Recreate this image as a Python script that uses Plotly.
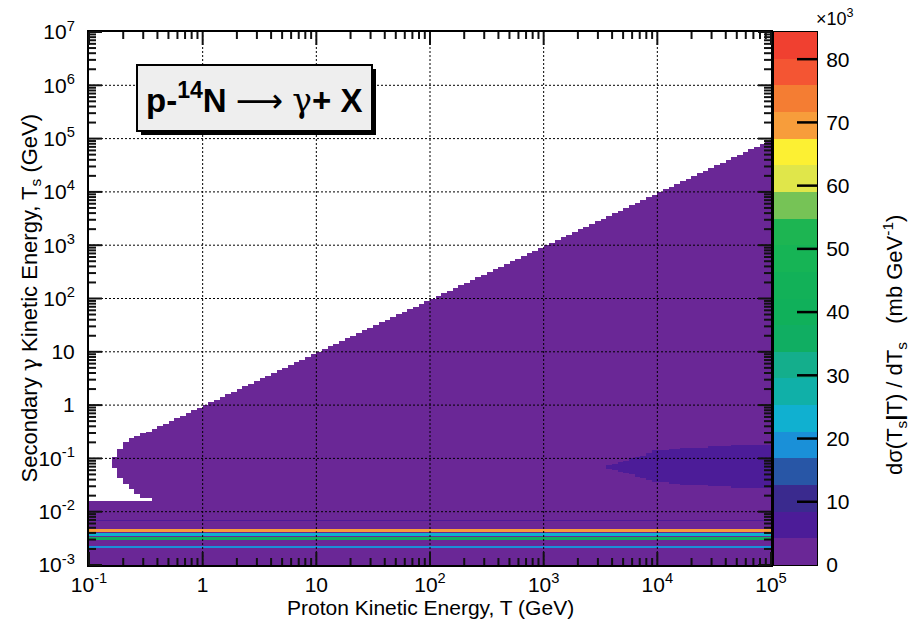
import numpy as np
import plotly.graph_objects as go

# ---------------- data ----------------
# grid of the 2D histogram (log10 of energies in GeV)
LOGT_MIN, LOGT_MAX, LOGT_STEP = -1.0, 5.0, 0.05
LOGTS_MIN, LOGTS_MAX, LOGTS_STEP = -3.0, 7.0, 0.025

# upper kinematic edge of the continuum (log10 Ts) for each T column (120 columns, -1..5)
upper_edge = [None, None, None, None, -0.97, -0.82, -0.69, -0.62, -0.57, -0.53, -0.49, -0.45,
              -0.40, -0.36, -0.30, -0.26, -0.20, -0.16, -0.10, -0.06,
              -0.01, 0.05, 0.09, 0.15, 0.19, 0.25, 0.29, 0.35, 0.40, 0.44,
              0.50, 0.54, 0.60, 0.64, 0.70, 0.74, 0.80, 0.85, 0.89, 0.95,
              0.99, 1.05, 1.10, 1.14, 1.20, 1.24, 1.30, 1.35, 1.39, 1.45,
              1.50, 1.54, 1.60, 1.64, 1.70, 1.75, 1.79, 1.85, 1.90, 1.94,
              2.00, 2.04, 2.10, 2.15, 2.19, 2.25, 2.30, 2.34, 2.40, 2.45,
              2.49, 2.55, 2.60, 2.64, 2.70, 2.75, 2.79, 2.85, 2.90, 2.94,
              3.00, 3.05, 3.09, 3.15, 3.20, 3.24, 3.30, 3.35, 3.39, 3.45,
              3.50, 3.54, 3.60, 3.65, 3.69, 3.75, 3.80, 3.84, 3.90, 3.95,
              3.99, 4.05, 4.10, 4.14, 4.20, 4.25, 4.29, 4.35, 4.40, 4.44,
              4.50, 4.55, 4.59, 4.65, 4.70, 4.74, 4.80, 4.85, 4.89, 4.94]
# lower edge of the continuum near threshold (first columns); elsewhere it joins the low-energy band
nose_lower_edge = [None, None, None, None, -1.18, -1.38, -1.47, -1.57, -1.68, -1.74, -1.76]

continuum_level = 1.6          # x10^3 mb/GeV
band_top = -1.80               # log10 Ts of the top of the low-energy band
band_level = 1.6

# nuclear de-excitation gamma lines inside the low-energy band
line_lo = [-2.38, -2.455, -2.53, -2.68, -2.17]
line_hi = [-2.33, -2.400, -2.475, -2.64, -2.14]
line_level = [70.0, 23.0, 36.0, 18.0, 6.0]

# pi0-decay bump at high T (per column from log10 T = 3.575 to 4.975)
bump_first_logT = 3.575
bump_lo = [-1.19, -1.22, -1.25, -1.28, -1.31, -1.34, -1.37, -1.41, -1.44, -1.45,
           -1.46, -1.47, -1.48, -1.49, -1.50, -1.50, -1.51, -1.51, -1.52, -1.52,
           -1.53, -1.53, -1.54, -1.54, -1.55, -1.55, -1.56, -1.56, -1.56]
bump_hi = [-1.13, -1.10, -1.07, -1.04, -1.01, -0.98, -0.95, -0.90, -0.86, -0.85,
           -0.84, -0.83, -0.82, -0.81, -0.80, -0.80, -0.79, -0.79, -0.78, -0.78,
           -0.77, -0.77, -0.76, -0.76, -0.76, -0.75, -0.75, -0.75, -0.75]
bump_level = 6.0

# colour palette of the 20 contour bands (bottom -> top)
band_colors = ["#6a2796", "#4c1c98", "#3a2a8e", "#2856a6", "#1a90d8",
               "#10b0d0", "#10b0a8", "#14ae8c", "#10ae62", "#10b05a",
               "#12b158", "#16b455", "#1db552", "#76c356", "#e0e64a",
               "#fcf033", "#f79d3b", "#f47d33", "#f45533", "#f04030"]
z_max = 84.3
cbar_ticks = [0, 10, 20, 30, 40, 50, 60, 70, 80]

x_tickvals = [0.1, 1, 10, 100, 1e3, 1e4, 1e5]
x_ticktext = ["10<sup>-1</sup>", "1", "10", "10<sup>2</sup>", "10<sup>3</sup>", "10<sup>4</sup>", "10<sup>5</sup>"]
y_tickvals = [1e-3, 1e-2, 0.1, 1, 10, 100, 1e3, 1e4, 1e5, 1e6, 1e7]
y_ticktext = ["10<sup>-3</sup>", "10<sup>-2</sup>", "10<sup>-1</sup>", "1", "10", "10<sup>2</sup>",
              "10<sup>3</sup>", "10<sup>4</sup>", "10<sup>5</sup>", "10<sup>6</sup>", "10<sup>7</sup>"]

# ---------------- build the histogram ----------------
logT_edges = np.round(np.arange(LOGT_MIN, LOGT_MAX + 1e-9, LOGT_STEP), 4)
logTs_edges = np.round(np.arange(LOGTS_MIN, LOGTS_MAX + 1e-9, LOGTS_STEP), 4)
col_c = 0.5 * (logT_edges[:-1] + logT_edges[1:])
row_c = 0.5 * (logTs_edges[:-1] + logTs_edges[1:])
ncol, nrow = len(col_c), len(row_c)
bump_first_col = int(np.argmin(np.abs(col_c - bump_first_logT)))

z = np.full((nrow, ncol), np.nan)
for c in range(ncol):
    zc = np.full(nrow, np.nan)
    zc[row_c < band_top] = band_level
    for lo, hi, v in zip(line_lo, line_hi, line_level):
        zc[(row_c >= lo) & (row_c < hi)] = v
    up = upper_edge[c]
    if up is not None:
        lo_c = band_top
        if c < len(nose_lower_edge) and nose_lower_edge[c] is not None:
            lo_c = nose_lower_edge[c]
        zc[(row_c >= lo_c) & (row_c < up)] = continuum_level
    k = c - bump_first_col
    if 0 <= k < len(bump_lo):
        zc[(row_c >= bump_lo[k]) & (row_c < bump_hi[k])] = bump_level
    z[:, c] = zc

colorscale = []
n_b = len(band_colors)
for i, col in enumerate(band_colors):
    colorscale.append([i / n_b, col])
    colorscale.append([(i + 1) / n_b, col])
band_edges = np.linspace(0, z_max, n_b + 1)
band_mid = 0.5 * (band_edges[:-1] + band_edges[1:])

minor_x = [m * 10.0 ** e for e in range(-1, 5) for m in range(2, 10)]
minor_y = [m * 10.0 ** e for e in range(-3, 7) for m in range(2, 10)]

# ---------------- figure ----------------
W, H = 910, 619
L, R, T, B = 89, 771, 32, 565     # main plot frame (pixels)
CB0, CB1 = 774, 817               # colour bar (pixels)
pw, ph = CB1 - L, B - T
fw, fh = R - L, B - T             # frame size
cbw = CB1 - CB0

def px2x(px):
    return (px - L) / pw

def px2y(py):
    return (B - py) / ph

FONT = "Liberation Sans, Arial, Helvetica, sans-serif"
TICKFONT = dict(size=21, family=FONT, color="black")

fig = go.Figure()
fig.add_trace(go.Heatmap(
    x=10 ** logT_edges, y=10 ** logTs_edges, z=z,
    zmin=0, zmax=z_max, colorscale=colorscale, zsmooth=False,
    hoverongaps=False, showscale=False, xaxis="x", yaxis="y",
))
# colour bar drawn as its own heatmap
fig.add_trace(go.Heatmap(
    x=[0, 1], y=band_edges, z=[[v] for v in band_mid],
    zmin=0, zmax=z_max, colorscale=colorscale, zsmooth=False,
    showscale=False, hoverinfo="skip", xaxis="x2", yaxis="y2",
))

frame = dict(showline=True, linecolor="black", mirror=True, showgrid=False, zeroline=False, ticks="")
fig.update_layout(
    xaxis=dict(domain=[0, px2x(R)], type="log", range=[-1, 5], tickmode="array",
               tickvals=x_tickvals, ticktext=x_ticktext, tickfont=TICKFONT, anchor="y",
               linewidth=2, ticklabelstandoff=0, **frame),
    yaxis=dict(domain=[0, 1], type="log", range=[-3, 7], tickmode="array",
               tickvals=y_tickvals, ticktext=y_ticktext, tickfont=TICKFONT, anchor="x",
               linewidth=2, ticklabelstandoff=8, **frame),
    xaxis2=dict(domain=[px2x(CB0), 1], range=[0, 1], anchor="y2", showticklabels=False,
                linewidth=1, fixedrange=True, **frame),
    yaxis2=dict(domain=[0, 1], range=[0, z_max], anchor="x2", side="right",
                tickmode="array", tickvals=cbar_ticks, tickfont=TICKFONT, ticklabelstandoff=4,
                linewidth=1, fixedrange=True, **frame),
)

shapes = []
DOT = dict(color="black", width=1, dash="2px,2px")
TICK = dict(color="#111111", width=2)

def fx(v):
    return float((np.log10(v) + 1) / 6)

def fy(v):
    return float((np.log10(v) + 3) / 10)

# grid
for v in x_tickvals[1:-1]:
    shapes.append(dict(type="line", xref="x domain", yref="y domain", x0=fx(v), x1=fx(v),
                       y0=0, y1=1, line=DOT, layer="above"))
for v in y_tickvals[1:-1]:
    shapes.append(dict(type="line", xref="x domain", yref="y domain", x0=0, x1=1,
                       y0=fy(v), y1=fy(v), line=DOT, layer="above"))
# ticks on all four sides (major 13 px, minor 7 px)
for vals, ln in ((x_tickvals, 13), (minor_x, 7)):
    for v in vals:
        f = fx(v)
        shapes.append(dict(type="line", xref="x domain", yref="y domain", x0=f, x1=f,
                           y0=0, y1=ln / fh, line=TICK, layer="above"))
        shapes.append(dict(type="line", xref="x domain", yref="y domain", x0=f, x1=f,
                           y0=1, y1=1 - ln / fh, line=TICK, layer="above"))
for vals, ln in ((y_tickvals, 13), (minor_y, 7)):
    for v in vals:
        f = fy(v)
        shapes.append(dict(type="line", xref="x domain", yref="y domain", x0=0, x1=ln / fw,
                           y0=f, y1=f, line=TICK, layer="above"))
        shapes.append(dict(type="line", xref="x domain", yref="y domain", x0=1, x1=1 - ln / fw,
                           y0=f, y1=f, line=TICK, layer="above"))
# colour-bar ticks
for v in cbar_ticks[1:]:
    shapes.append(dict(type="line", xref="x2 domain", yref="y2", x0=1, x1=1 - 20 / cbw,
                       y0=v, y1=v, line=dict(color="black", width=2.5), layer="above"))

# label box with shadow
bx0, bx1, by0, by1 = 137, 372, 65, 131
shapes.append(dict(type="rect", xref="paper", yref="paper",
                   x0=px2x(bx0 + 4), x1=px2x(bx1 + 4), y0=px2y(by1 + 4), y1=px2y(by0 + 4),
                   fillcolor="black", line=dict(width=0), layer="above"))
shapes.append(dict(type="rect", xref="paper", yref="paper",
                   x0=px2x(bx0), x1=px2x(bx1), y0=px2y(by1), y1=px2y(by0),
                   fillcolor="#eeeeee", line=dict(color="black", width=2), layer="above"))

annotations = [
    dict(text="<b>p-<sup>14</sup>N</b> <span style='font-family:DejaVu Sans'>⟶</span> "
              "<span style='font-family:DejaVu Serif'>γ</span><b>+ X</b>",
         xref="paper", yref="paper", x=px2x((bx0 + bx1) / 2), y=px2y((by0 + by1) / 2),
         xanchor="center", yanchor="middle", showarrow=False,
         font=dict(size=33, family=FONT, color="black")),
    dict(text="Proton Kinetic Energy, T (GeV)", xref="paper", yref="paper",
         x=px2x((L + R) / 2), y=px2y(607), xanchor="center", yanchor="middle", showarrow=False,
         font=dict(size=21, family=FONT, color="black")),
    dict(text="Secondary <span style='font-family:DejaVu Serif'>γ</span> Kinetic Energy, T<sub>s</sub> (GeV)",
         xref="paper", yref="paper", x=px2x(30), y=0.5, textangle=-90,
         xanchor="center", yanchor="middle", showarrow=False,
         font=dict(size=22, family=FONT, color="black")),
    dict(text="dσ(T<sub>s</sub><b>|</b>T) / dT<sub>s</sub>\u00a0\u00a0\u00a0(mb GeV<sup>-1</sup>)",
         xref="paper", yref="paper", x=px2x(894), y=px2y(345), textangle=-90,
         xanchor="center", yanchor="middle", showarrow=False,
         font=dict(size=22, family=FONT, color="black")),
    dict(text="×10<sup>3</sup>", xref="paper", yref="paper", x=px2x(835), y=px2y(17),
         xanchor="center", yanchor="middle", showarrow=False,
         font=dict(size=18, family=FONT, color="black")),
]

fig.update_layout(
    width=W, height=H, margin=dict(l=L, r=W - CB1, t=T, b=H - B),
    paper_bgcolor="white", plot_bgcolor="white",
    font=dict(family=FONT, color="black"),
    shapes=shapes, annotations=annotations, showlegend=False,
)

fig.write_html("out.html")
